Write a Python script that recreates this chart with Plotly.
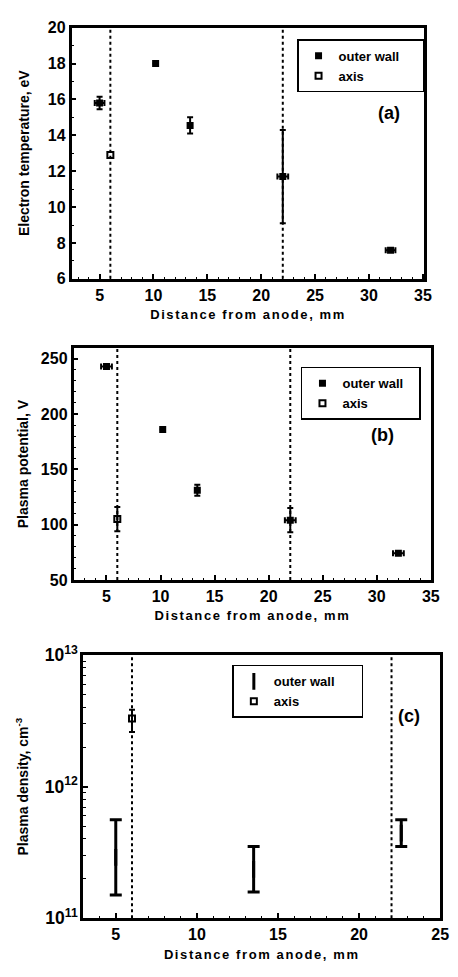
import plotly.graph_objects as go

W, H = 458, 977

# ---------------- data ----------------
# (a) Electron temperature
a_wall_x = [5.0, 10.2, 13.4, 22.0, 32.0]
a_wall_y = [15.8, 18.0, 14.55, 11.7, 7.6]
a_wall_yerr = [0.35, 0.0, 0.45, 2.6, 0.0]
a_wall_xerr = [0.45, 0.0, 0.0, 0.5, 0.45]
a_axis_x = [6.0]
a_axis_y = [12.9]

# (b) Plasma potential
b_wall_x = [5.0, 10.2, 13.4, 22.0, 32.0]
b_wall_y = [243, 186, 131, 104, 74]
b_wall_yerr = [2, 0, 5, 11, 0]
b_wall_xerr = [0.5, 0.0, 0.0, 0.5, 0.5]
b_axis_x = [6.0]
b_axis_y = [105]
b_axis_yerr = [11]

# (c) Plasma density (outer wall shown as ranges)
c_wall_x = [5.0, 13.5, 22.6]
c_wall_low = [1.5e11, 1.58e11, 3.5e11]
c_wall_high = [5.6e11, 3.5e11, 5.6e11]
c_axis_x = [6.0]
c_axis_y = [3.3e12]
c_axis_low = [2.6e12]
c_axis_high = [3.85e12]

ref_lines = [6, 22]

a_xticks = [5, 10, 15, 20, 25, 30, 35]
a_yticks = [6, 8, 10, 12, 14, 16, 18, 20]
b_yticks = [50, 100, 150, 200, 250]
c_xticks = [5, 10, 15, 20, 25]

FONT = "Liberation Sans"
BLACK = "black"
NB = "\u00a0"

fig = go.Figure()

# ---- panel a ----
fig.add_trace(go.Scatter(
    x=a_wall_x, y=a_wall_y, mode="markers", name="outer wall" + NB * 5,
    marker=dict(symbol="square", size=7, color=BLACK),
    error_y=dict(type="data", array=a_wall_yerr, color=BLACK, thickness=2, width=3),
    error_x=dict(type="data", array=a_wall_xerr, color=BLACK, thickness=2, width=3),
    xaxis="x", yaxis="y", legend="legend"))
fig.add_trace(go.Scatter(
    x=a_axis_x, y=a_axis_y, mode="markers", name="axis",
    marker=dict(symbol="square-open", size=6, color=BLACK, line=dict(width=2)),
    xaxis="x", yaxis="y", legend="legend"))

# ---- panel b ----
fig.add_trace(go.Scatter(
    x=b_wall_x, y=b_wall_y, mode="markers", name="outer wall" + NB * 3,
    marker=dict(symbol="square", size=7, color=BLACK),
    error_y=dict(type="data", array=b_wall_yerr, color=BLACK, thickness=2, width=3),
    error_x=dict(type="data", array=b_wall_xerr, color=BLACK, thickness=2, width=3),
    xaxis="x2", yaxis="y2", legend="legend2"))
fig.add_trace(go.Scatter(
    x=b_axis_x, y=b_axis_y, mode="markers", name="axis",
    marker=dict(symbol="square-open", size=6, color=BLACK, line=dict(width=2)),
    error_y=dict(type="data", array=b_axis_yerr, color=BLACK, thickness=2, width=3),
    xaxis="x2", yaxis="y2", legend="legend2"))

# ---- panel c ----
c_mid = [(lo * hi) ** 0.5 for lo, hi in zip(c_wall_low, c_wall_high)]
fig.add_trace(go.Scatter(
    x=c_wall_x, y=c_mid, mode="markers", name="outer wall" + NB * 6,
    marker=dict(symbol="line-ns-open", size=12, color=BLACK, line=dict(width=3, color=BLACK)),
    error_y=dict(type="data", symmetric=False,
                 array=[h - m for h, m in zip(c_wall_high, c_mid)],
                 arrayminus=[m - l for m, l in zip(c_mid, c_wall_low)],
                 color=BLACK, thickness=3, width=6),
    xaxis="x3", yaxis="y3", legend="legend3"))
fig.add_trace(go.Scatter(
    x=c_axis_x, y=c_axis_y, mode="markers", name="axis",
    marker=dict(symbol="square-open", size=6, color=BLACK, line=dict(width=2)),
    error_y=dict(type="data", symmetric=False,
                 array=[h - m for h, m in zip(c_axis_high, c_axis_y)],
                 arrayminus=[m - l for m, l in zip(c_axis_y, c_axis_low)],
                 color=BLACK, thickness=2, width=3),
    xaxis="x3", yaxis="y3", legend="legend3"))

# dashed reference lines
for xr, yr in [("x", "y"), ("x2", "y2"), ("x3", "y3")]:
    for xv in ref_lines:
        fig.add_shape(type="line", xref=xr, yref=f"{yr} domain", x0=xv, x1=xv, y0=0, y1=1,
                      line=dict(color=BLACK, width=2, dash="dot"), layer="above")

def px2x(p):
    return p / W

def px2y(p):
    return 1 - p / H

tickfont = dict(family=FONT, size=16, color=BLACK, weight="bold")
titlefont = dict(family=FONT, size=13, color=BLACK, weight="bold")
xtitle = '<span style="letter-spacing:1.6px">Distance from anode, mm</span>'

def xax(domain, anchor, rng, ticks, minor):
    return dict(domain=domain, anchor=anchor, range=rng, tickvals=ticks,
                ticks="inside", ticklen=5, tickwidth=1.5, tickcolor=BLACK,
                minor=dict(dtick=minor, ticks="inside", ticklen=2, tickwidth=1, tickcolor=BLACK, tick0=0),
                showline=True, linewidth=2.5, linecolor=BLACK, mirror=True,
                showgrid=False, zeroline=False, tickfont=tickfont,
                title=dict(text=xtitle, font=titlefont, standoff=8))

def yax(domain, anchor, rng, title, standoff, **kw):
    d = dict(domain=domain, anchor=anchor, range=rng,
             ticks="inside", ticklen=5, tickwidth=1.5, tickcolor=BLACK,
             showline=True, linewidth=2.5, linecolor=BLACK, mirror=True,
             showgrid=False, zeroline=False, tickfont=tickfont,
             title=dict(text=title, font=dict(family=FONT, size=14, color=BLACK, weight="bold"),
                        standoff=standoff))
    d.update(kw)
    return d

legfont = dict(family=FONT, size=13, color=BLACK, weight="bold")
labfont = dict(family=FONT, size=18, color=BLACK, weight="bold")

fig.update_layout(
    width=W, height=H, margin=dict(l=0, r=0, t=0, b=0),
    paper_bgcolor="white", plot_bgcolor="white",
    font=dict(family=FONT, color=BLACK, weight="bold"),
    showlegend=True,
    xaxis=xax([px2x(73), px2x(433)], "y", [2.4, 35.15], a_xticks, 1),
    yaxis=yax([px2y(273), px2y(16)], "x", [6, 20], "Electron temperature, eV", 15,
              tickvals=a_yticks,
              minor=dict(dtick=1, ticks="inside", ticklen=3, tickwidth=1, tickcolor=BLACK)),
    xaxis2=xax([px2x(75), px2x(440)], "y2", [1.95, 35.05], a_xticks, 1),
    yaxis2=yax([px2y(581), px2y(344)], "x2", [50, 259.5], "Plasma potential, V", 9,
               tickvals=b_yticks,
               minor=dict(dtick=10, ticks="inside", ticklen=3, tickwidth=1, tickcolor=BLACK)),
    xaxis3=xax([px2x(85), px2x(449)], "y3", [3, 25], c_xticks, 1),
    yaxis3=yax([px2y(927), px2y(658)], "x3", [11, 13], "Plasma density, cm<sup>-3</sup>", 13,
               type="log", dtick=1, exponentformat="power",
               tickfont=dict(family=FONT, size=14, color=BLACK, weight="bold"),
               minor=dict(ticks="inside", ticklen=3, tickwidth=1, tickcolor=BLACK)),
    legend=dict(x=px2x(303), y=px2y(28), xanchor="left", yanchor="top",
                bordercolor=BLACK, borderwidth=1.5, bgcolor="white", font=legfont,
                itemwidth=30, tracegroupgap=0),
    legend2=dict(x=px2x(307), y=px2y(363), xanchor="left", yanchor="top",
                 bordercolor=BLACK, borderwidth=1.5, bgcolor="white", font=legfont,
                 itemwidth=30, tracegroupgap=0),
    legend3=dict(x=px2x(237), y=px2y(668), xanchor="left", yanchor="top",
                 bordercolor=BLACK, borderwidth=1.5, bgcolor="white", font=legfont,
                 itemwidth=30, tracegroupgap=0),
    annotations=[
        dict(text="(a)", xref="paper", yref="paper", x=px2x(397), y=px2y(103), showarrow=False,
             xanchor="center", yanchor="middle", font=labfont),
        dict(text="(b)", xref="paper", yref="paper", x=px2x(390), y=px2y(433), showarrow=False,
             xanchor="center", yanchor="middle", font=labfont),
        dict(text="(c)", xref="paper", yref="paper", x=px2x(417), y=px2y(720), showarrow=False,
             xanchor="center", yanchor="middle", font=labfont),
    ],
)

fig.write_html("out.html", config={"displayModeBar": False},
               post_script="document.body.style.margin='0';document.body.style.overflow='hidden';"
                           "document.documentElement.style.overflow='hidden';")
